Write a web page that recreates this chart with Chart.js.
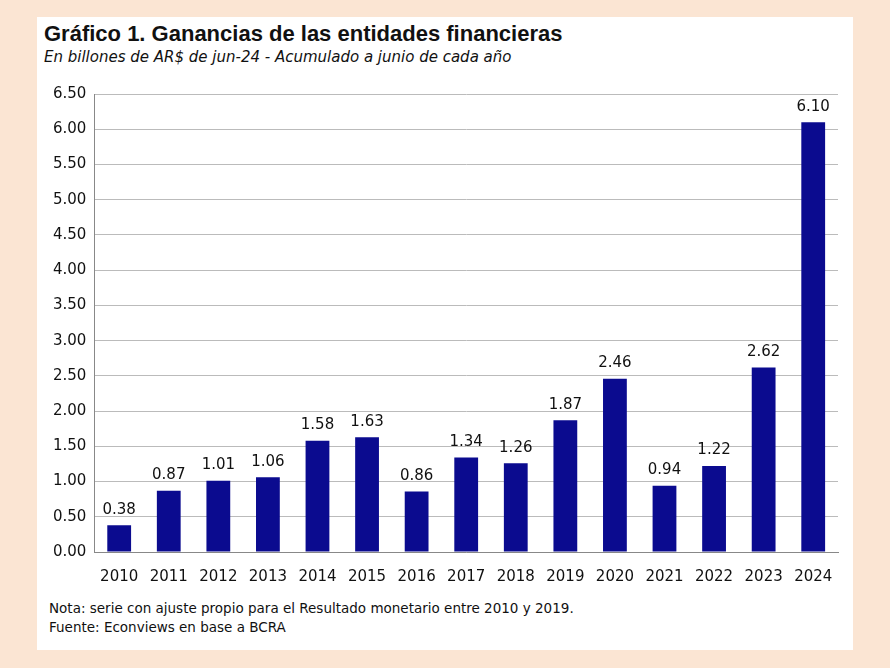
<!DOCTYPE html>
<html><head><meta charset="utf-8">
<script src="https://cdn.jsdelivr.net/npm/chart.js@4"></script>
<style>
html,body{margin:0;padding:0;background:#fbe5d3;}
#card{position:absolute;left:37px;top:17px;width:816px;height:633px;background:#fff;}
#t{position:absolute;left:7px;top:4px;font:bold 22px "Liberation Sans",Arial,sans-serif;color:#111;}
#s{position:absolute;left:7px;top:31px;font:italic 15px "DejaVu Sans",sans-serif;color:#111;}
#n{position:absolute;left:12px;top:582px;font:13.5px "DejaVu Sans",sans-serif;color:#111;line-height:19px;}
#w{position:absolute;left:0;top:60px;width:816px;height:517px;}
</style></head><body>
<div id="card">
<div id="t">Gráfico 1. Ganancias de las entidades financieras</div>
<div id="s">En billones de AR$ de jun-24 - Acumulado a junio de cada año</div>
<div id="w"><canvas id="c"></canvas></div>
<div id="n">Nota: serie con ajuste propio para el Resultado monetario entre 2010 y 2019.<br>Fuente: Econviews en base a BCRA</div>
</div>
<script>
const categories=["2010","2011","2012","2013","2014","2015","2016","2017","2018","2019","2020","2021","2022","2023","2024"];
const values=[0.38,0.87,1.01,1.06,1.58,1.63,0.86,1.34,1.26,1.87,2.46,0.94,1.22,2.62,6.10];
const labelPlugin={id:'lbl',afterDatasetsDraw(ch){const ctx=ch.ctx;const m=ch.getDatasetMeta(0);ctx.save();ctx.font='15px "DejaVu Sans",sans-serif';ctx.fillStyle='#111';ctx.textAlign='center';ctx.textBaseline='bottom';
m.data.forEach((b,i)=>ctx.fillText(values[i].toFixed(2),b.x,b.y-8));ctx.restore();}};
new Chart(document.getElementById('c'),{type:'bar',
data:{labels:categories,datasets:[{data:values,backgroundColor:'#0b0b8f',categoryPercentage:1,barPercentage:0.48}]},
options:{responsive:true,maintainAspectRatio:false,animation:false,
layout:{padding:{left:8,right:15,top:0,bottom:0}},
plugins:{legend:{display:false},tooltip:{enabled:false}},
scales:{y:{min:0,max:6.5,ticks:{stepSize:0.5,color:'#111',font:{size:15,family:'"DejaVu Sans",sans-serif'},callback:v=>v.toFixed(2),padding:8},
grid:{color:'#bbb',drawTicks:false},border:{color:'#888'}},
x:{ticks:{color:'#111',font:{size:15,family:'"DejaVu Sans",sans-serif'},padding:8},grid:{display:false},border:{color:'#888'}}}},
plugins:[labelPlugin]});
</script>
</body></html>
